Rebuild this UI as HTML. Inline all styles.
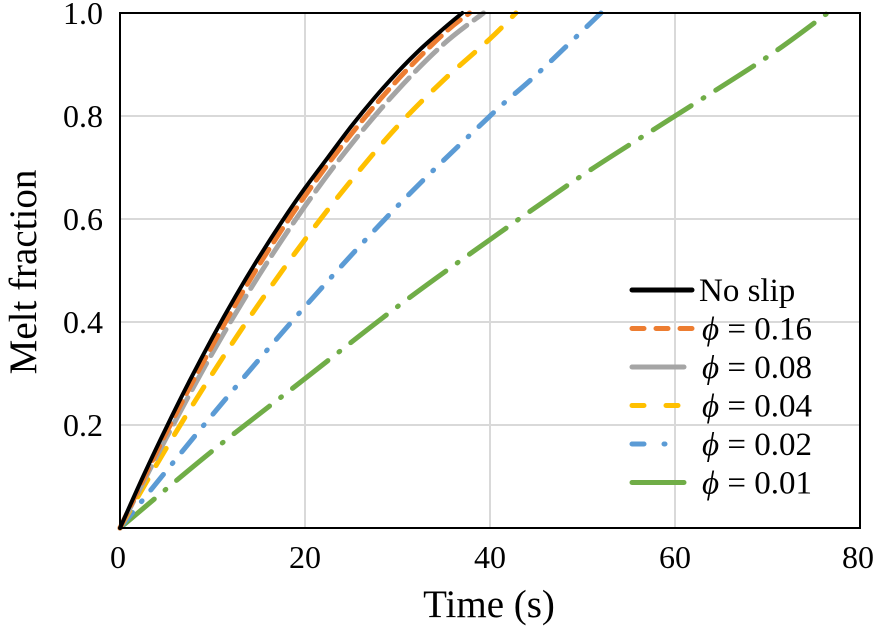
<!DOCTYPE html>
<html><head><meta charset="utf-8"><style>
body{margin:0;background:#fff}
svg{display:block}
.t{font-family:"Liberation Serif","DejaVu Serif",serif;font-size:32px;fill:#000}
.l{font-size:33px}
.ti{font-size:39px}
</style></head><body>
<svg id="chart" width="875" height="631" viewBox="0 0 875 631" xmlns="http://www.w3.org/2000/svg">
<g id="grid"></g>
<g id="series"></g>
<rect x="120" y="13" width="740" height="515" fill="none" stroke="#000" stroke-width="2"/>
<g text-anchor="middle">
<text class="t" x="118" y="568">0</text>
<text class="t" x="305" y="568">20</text>
<text class="t" x="490" y="568">40</text>
<text class="t" x="675" y="568">60</text>
<text class="t" x="858" y="568">80</text>
</g>
<g text-anchor="end">
<text class="t" x="103" y="436">0.2</text>
<text class="t" x="103" y="333">0.4</text>
<text class="t" x="103" y="230">0.6</text>
<text class="t" x="103" y="127">0.8</text>
<text class="t" x="103" y="24">1.0</text>
</g>
<text class="t ti" x="489" y="617" text-anchor="middle">Time (s)</text>
<text class="t ti" transform="translate(36,272) rotate(-90)" text-anchor="middle">Melt fraction</text>
<g id="legend">
<text class="t l" x="699" y="301">No slip</text>
<text class="t l" x="702" y="339.5"><tspan font-style="italic">ϕ</tspan> = 0.16</text>
<text class="t l" x="702" y="378"><tspan font-style="italic">ϕ</tspan> = 0.08</text>
<text class="t l" x="702" y="416.5"><tspan font-style="italic">ϕ</tspan> = 0.04</text>
<text class="t l" x="702" y="455"><tspan font-style="italic">ϕ</tspan> = 0.02</text>
<text class="t l" x="702" y="493.5"><tspan font-style="italic">ϕ</tspan> = 0.01</text>
</g>
</svg>
<script>
const xTicks=[0,20,40,60,80];
const yTicks=[0.2,0.4,0.6,0.8,1.0];
const tNoSlip=[0,2.5,5,7.5,10,12.5,15,17.5,20,22.5,25,27.5,30,32.5,35,37];
const fNoSlip=[0,0.10,0.195,0.285,0.37,0.45,0.525,0.595,0.66,0.72,0.78,0.835,0.885,0.93,0.97,1.0];
const t016=[0,5,10,15,20,25,30,35,37.8];
const f016=[0,0.185,0.355,0.51,0.645,0.765,0.87,0.96,1.0];
const t008=[0,5,10,15,20,25,30,35,39.3];
const f008=[0,0.175,0.34,0.49,0.625,0.745,0.85,0.94,1.0];
const t004=[0,5,10,15,20,25,30,35,40,42.8];
const f004=[0,0.155,0.30,0.435,0.56,0.675,0.78,0.87,0.95,1.0];
const t002=[0,10,20,30,40,45,52];
const f002=[0,0.22,0.43,0.625,0.80,0.88,1.0];
const t001=[0,10,20,30,40,50,60,70,76.5];
const f001=[0,0.15,0.29,0.43,0.56,0.685,0.80,0.915,1.0];
const NS="http://www.w3.org/2000/svg";
const X=v=>120+v/80*740, Y=v=>528-v*515;
function mk(tag,attrs,parent){const e=document.createElementNS(NS,tag);for(const k in attrs)e.setAttribute(k,attrs[k]);parent.appendChild(e);return e;}
const grid=document.getElementById('grid');
xTicks.forEach((v,i)=>{
  if(i>0&&i<xTicks.length-1){const l=mk('line',{x1:X(v),x2:X(v),y1:13,y2:528,stroke:'#d9d9d9','stroke-width':2},grid);
  
  }
});
yTicks.forEach((v,i)=>{
  if(i<yTicks.length-1){const l=mk('line',{x1:120,x2:860,y1:Y(v),y2:Y(v),stroke:'#d9d9d9','stroke-width':2},grid);
  
  }
});
const styles=[
 {c:'#000000',d:'',n:'no-slip'},
 {c:'#ed7d31',d:'16 9',n:'phi-0-16'},
 {c:'#a5a5a5',d:'30 9',n:'phi-0-08'},
 {c:'#ffc000',d:'20 16',n:'phi-0-04'},
 {c:'#5b9bd5',d:'20 14 1 14',n:'phi-0-02'},
 {c:'#70ad47',d:'45 14 1 14',n:'phi-0-01'}];
const data=[[tNoSlip,fNoSlip],[t016,f016],[t008,f008],[t004,f004],[t002,f002],[t001,f001]];
const sg=document.getElementById('series'),lg=document.getElementById('legend');
function smooth(pts){
  let d='M'+pts[0][0].toFixed(1)+','+pts[0][1].toFixed(1);
  for(let i=0;i<pts.length-1;i++){
    const p0=pts[i-1]||pts[i],p1=pts[i],p2=pts[i+1],p3=pts[i+2]||p2;
    const c1=[p1[0]+(p2[0]-p0[0])/6,p1[1]+(p2[1]-p0[1])/6];
    const c2=[p2[0]-(p3[0]-p1[0])/6,p2[1]-(p3[1]-p1[1])/6];
    d+=' C'+c1.map(v=>v.toFixed(1))+' '+c2.map(v=>v.toFixed(1))+' '+p2.map(v=>v.toFixed(1));
  }
  return d;
}
for(let i=data.length-1;i>=0;i--){
  const [t,f]=data[i];
  const pts=t.map((v,j)=>[X(v),Y(f[j])]);
  const p=mk('path',{d:smooth(pts),fill:'none',stroke:styles[i].c,'stroke-width':i==0?4:5,'stroke-linecap':'round','stroke-dasharray':styles[i].d},sg);
  
  
}
const legD=['','12 12','','12 22','12 20 1 20',''];
styles.forEach((s,i)=>{
  const y=290+i*38.5;
  const l=mk('line',{x1:632,x2:i<2||i==3?692:684,y1:y,y2:y,stroke:s.c,'stroke-width':5,'stroke-linecap':'round','stroke-dasharray':legD[i]},lg);
  
  
});
</script>
</body></html>
